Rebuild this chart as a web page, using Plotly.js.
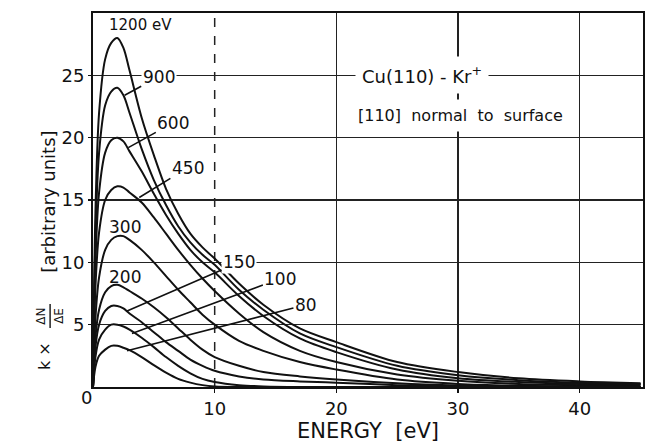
<!DOCTYPE html>
<html>
<head>
<meta charset="utf-8">
<script src="https://cdn.plot.ly/plotly-3.0.1.min.js"></script>
<style>
  html, body { margin: 0; padding: 0; background: #ffffff; }
  #chart { width: 661px; height: 444px; }
</style>
</head>
<body>
<div id="chart"></div>
<script>
// ---- Data ----
const energy = [0, 0.2, 0.5, 1, 1.5, 2, 2.5, 3, 4, 5, 6, 7, 8, 9, 10, 12, 14, 17, 20, 25, 30, 35, 40, 45];

const y1200 = [0, 14, 22, 26.3, 27.6, 28, 27.2, 25.4, 21.6, 18.6, 15.9, 13.9, 12.3, 11.2, 10.3, 8.3, 6.6, 4.7, 3.6, 2.0, 1.2, 0.7, 0.45, 0.3];
const y900  = [0, 12, 18.8, 22.6, 23.7, 24, 23.4, 22, 19.1, 16.6, 14.6, 12.9, 11.6, 10.6, 9.8, 7.8, 6.2, 4.3, 3.2, 1.7, 0.95, 0.55, 0.35, 0.25];
const y600  = [0, 10, 15.6, 18.8, 19.8, 20, 19.7, 18.9, 17.3, 15.5, 13.8, 12.3, 11.0, 10.0, 9.2, 7.3, 5.7, 3.9, 2.8, 1.4, 0.7, 0.4, 0.25, 0.2];
const y450  = [0, 8, 12.4, 15.0, 15.8, 16.1, 16.0, 15.6, 14.8, 13.6, 12.3, 11.0, 9.8, 8.7, 7.7, 5.9, 4.4, 2.9, 2.0, 1.0, 0.5, 0.25, 0.15, 0.1];
const y300  = [0, 5.5, 8.8, 11.0, 11.8, 12.1, 12.1, 11.8, 11.0, 10.0, 8.9, 7.8, 6.8, 5.8, 5.0, 3.7, 2.9, 2.0, 1.4, 0.6, 0.25, 0.1, 0.05, 0];
const y200  = [0, 4, 6.2, 7.6, 8.1, 8.2, 8.0, 7.7, 7.1, 6.4, 5.6, 4.7, 3.8, 3.0, 2.4, 1.7, 1.2, 0.85, 0.6, 0.3, 0.12, 0.04, 0, 0];
const y150  = [0, 3.2, 5.0, 6.1, 6.5, 6.5, 6.3, 5.9, 5.2, 4.4, 3.6, 2.9, 2.2, 1.7, 1.3, 0.85, 0.6, 0.45, 0.35, 0.15, 0.05, 0, 0, 0];
const y100  = [0, 2.4, 3.8, 4.6, 5.0, 5.0, 4.85, 4.6, 3.95, 3.2, 2.4, 1.7, 1.1, 0.65, 0.4, 0.15, 0.05, 0, 0, 0, 0, 0, 0, 0];
const y80   = [0, 1.6, 2.5, 3.0, 3.3, 3.3, 3.15, 2.95, 2.4, 1.75, 1.15, 0.65, 0.35, 0.15, 0.05, 0, 0, 0, 0, 0, 0, 0, 0, 0];

const seriesNames = ["1200 eV", "900 eV", "600 eV", "450 eV", "300 eV", "200 eV", "150 eV", "100 eV", "80 eV"];
const seriesValues = [y1200, y900, y600, y450, y300, y200, y150, y100, y80];

const xTicks = [10, 20, 30, 40];
const xSolidGrid = [20, 30, 40];
const xDashedGrid = 10;
const yTicks = [5, 10, 15, 20, 25];

// ---- Build traces ----
const traces = seriesValues.map((vals, i) => ({
  x: energy,
  y: vals,
  name: seriesNames[i],
  type: "scatter",
  mode: "lines",
  line: { color: "#111111", width: 2, shape: "spline", smoothing: 0.9 },
  hoverinfo: "name+x+y"
}));

const FONT = "DejaVu Sans, Liberation Sans, sans-serif";
const ink = "#111111";

function lbl(text, x, y, size, extra) {
  return Object.assign({
    text: text, x: x, y: y, xref: "x", yref: "y",
    xanchor: "center", yanchor: "middle",
    showarrow: false, font: { family: FONT, size: size, color: ink }
  }, extra || {});
}
function leader(text, tipX, tipY, txtX, txtY, size, extra) {
  return Object.assign({
    text: text, x: tipX, y: tipY, xref: "x", yref: "y",
    ax: txtX, ay: txtY, axref: "x", ayref: "y",
    showarrow: true, arrowhead: 0, arrowwidth: 1.6, arrowcolor: ink,
    standoff: 0, startstandoff: 0,
    font: { family: FONT, size: size, color: ink }
  }, extra || {});
}
function side(text, x, y, size, angle) {
  return {
    text: text, x: x, y: y, xref: "paper", yref: "paper",
    xanchor: "center", yanchor: "middle", showarrow: false,
    textangle: angle, font: { family: FONT, size: size, color: ink }
  };
}

const annotations = [
  lbl("1200 eV", 3.9, 29.0, 15),
  leader("900", 2.6, 23.4, 5.4, 24.9, 17, { bgcolor: "#ffffff" }),
  leader("600", 2.9, 19.2, 6.6, 21.2, 17),
  leader("450", 3.8, 15.2, 7.8, 17.6, 17),
  lbl("300", 2.6, 12.8, 17),
  lbl("200", 2.6, 8.8, 17),
  leader("150", 2.8, 6.1, 12.0, 10.0, 17, { bgcolor: "#ffffff" }),
  leader("100", 3.2, 4.3, 15.4, 8.7, 17),
  leader("80", 2.8, 2.9, 17.5, 6.6, 17),
  lbl("Cu(110) - Kr<sup>+</sup>", 27.0, 25.0, 18, { bgcolor: "#ffffff", borderpad: 6 }),
  lbl("[110]  normal  to  surface", 30.2, 21.8, 16, { bgcolor: "#ffffff", borderpad: 6 }),
  // corner zero shared by both axes
  side("0", -0.0127, -0.029, 18, 0),
  // y-axis label pieces (rotated)
  side("[arbitrary units]", -0.08, 0.495, 18, -90),
  side("k ×", -0.087, 0.083, 16, -90),
  side("ΔN", -0.095, 0.19, 12, -90),
  side("ΔE", -0.062, 0.19, 12, -90)
];

const shapes = [
  // dashed grid line at 10 eV (drawn below the curves)
  { type: "line", xref: "x", yref: "paper", x0: xDashedGrid, x1: xDashedGrid, y0: 0, y1: 1,
    layer: "below", line: { color: "#222222", width: 1.5, dash: "dash" } },
  // fraction bar of the y-axis label
  { type: "line", xref: "paper", yref: "paper", x0: -0.078, x1: -0.078, y0: 0.158, y1: 0.222,
    line: { color: ink, width: 1.4 } }
];

const layout = {
  width: 661, height: 444,
  margin: { l: 93, r: 18, t: 13, b: 57 },
  paper_bgcolor: "#ffffff",
  plot_bgcolor: "#ffffff",
  showlegend: false,
  font: { family: FONT, color: ink },
  xaxis: {
    range: [0, 45.2],
    tickvals: xTicks,
    ticktext: xTicks.map(String),
    ticks: "outside", ticklen: 4, tickwidth: 1.5, tickcolor: ink,
    tickfont: { family: FONT, size: 18, color: ink },
    showgrid: false,
    minor: { tickvals: xSolidGrid, showgrid: true, gridcolor: "#222222", gridwidth: 1.5, ticks: "" },
    showline: true, linecolor: ink, linewidth: 2, mirror: true,
    zeroline: false,
    title: { text: "ENERGY  [eV]", font: { family: FONT, size: 21, color: ink }, standoff: 1 }
  },
  yaxis: {
    range: [0, 30],
    tickvals: yTicks,
    ticktext: yTicks.map(String),
    ticks: "outside", ticklen: 3, tickwidth: 1.5, tickcolor: ink,
    tickfont: { family: FONT, size: 18, color: ink },
    showgrid: true, gridcolor: "#222222", gridwidth: 1.5,
    showline: true, linecolor: ink, linewidth: 2, mirror: true,
    zeroline: false
  },
  annotations: annotations,
  shapes: shapes
};

Plotly.newPlot("chart", traces, layout, { displayModeBar: false, staticPlot: true });
</script>
</body>
</html>
